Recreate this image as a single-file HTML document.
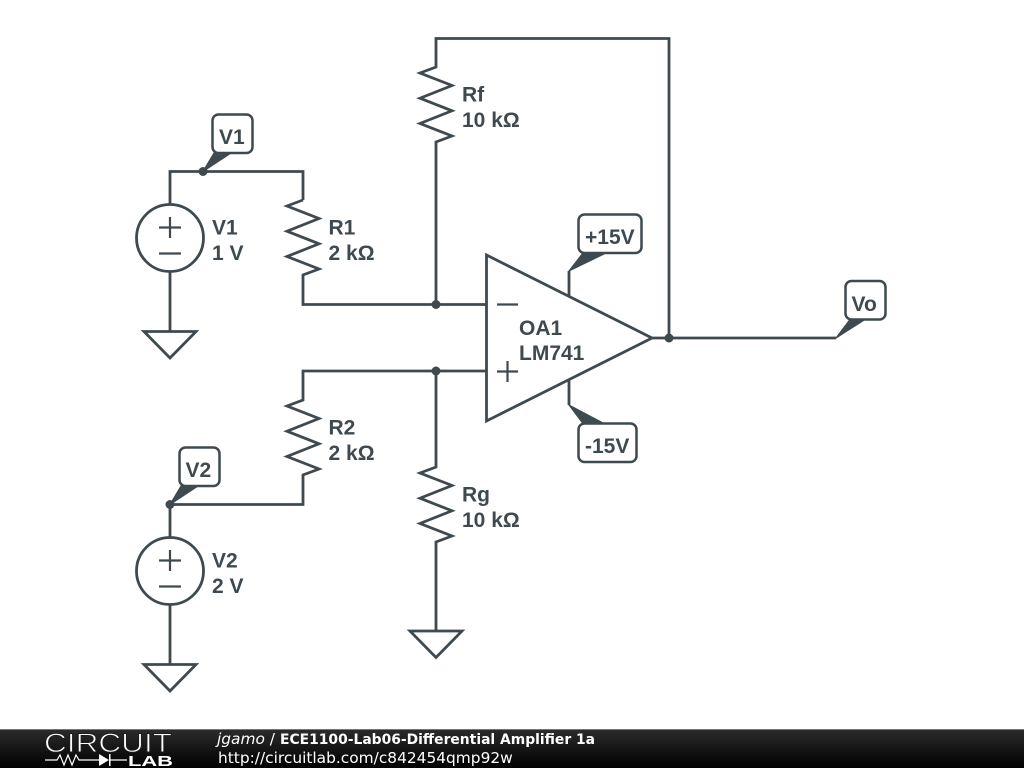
<!DOCTYPE html>
<html><head><meta charset="utf-8"><style>
html,body{margin:0;padding:0;background:#fff;width:1024px;height:768px;overflow:hidden}
svg{display:block}
.w{fill:none;stroke:#3f4a50;stroke-width:2.8;stroke-linejoin:miter}
.t{fill:#fff;stroke:#3f4a50;stroke-width:2.5}
.f{fill:#3f4a50}
.p{fill:#3f4a50;stroke:#3f4a50;stroke-width:1.2;stroke-linejoin:round}
text.l{font-family:"Liberation Sans",sans-serif;font-weight:bold;font-size:21px;fill:#3f4a50}
text.b{font-family:"DejaVu Sans",sans-serif;font-size:15.4px;fill:#fff}
</style></head><body>
<svg width="1024" height="768" viewBox="0 0 1024 768" xmlns="http://www.w3.org/2000/svg">
<defs><linearGradient id="g" x1="0" y1="0" x2="0" y2="1"><stop offset="0" stop-color="#2c2c2c"/><stop offset="1" stop-color="#000"/></linearGradient></defs>
<rect width="1024" height="768" fill="#fff"/>
<!-- wires -->
<path class="w" d="M170 238V171.500H303V200"/>
<path class="w" d="M303 200L287 206L319 218.500L287 231.200L319 243.800L287 256.500L319 269L303 275V304.500H486"/>
<path class="w" d="M436 304.500V142L452 136L420 123.500L452 110.800L420 98.200L452 85.500L420 73L436 67V38.500H669V338"/>
<path class="w" d="M652 338H836"/>
<path class="w" d="M486 371H303V400L287 406L319 418.500L287 431.200L319 443.800L287 456.500L319 469L303 475V504.500H170V571"/>
<path class="w" d="M436 371V467L420 473L452 485.500L420 498.200L452 510.800L420 523.500L452 536L436 542V630"/>
<path class="w" d="M170 271V331"/>
<path class="w" d="M170 604V664"/>
<path class="w" d="M569 297V271"/>
<path class="w" d="M569 379V405"/>
<!-- sources -->
<circle class="w" cx="170" cy="238" r="33.500" style="fill:#fff"/>
<path class="w" d="M159 227.500H181M170 217V238M159 253.500H181" style="stroke-width:2.200"/>
<circle class="w" cx="170" cy="571" r="33.500" style="fill:#fff"/>
<path class="w" d="M159 560.500H181M170 550V571M159 586.500H181" style="stroke-width:2.200"/>
<!-- grounds -->
<path class="w" d="M144 331.500H196L170 358Z"/>
<path class="w" d="M144 664.500H196L170 691Z"/>
<path class="w" d="M410 631H462L436 657.500Z"/>
<!-- opamp -->
<path class="w" d="M486.500 255L652 338L486.500 421Z" style="fill:#fff"/>
<path class="w" d="M497 304.500H518M497 371.500H518M507.500 361V382" style="stroke-width:2.200"/>
<!-- junctions -->
<g class="f"><circle cx="203" cy="171.500" r="4.500"/><circle cx="436" cy="304.500" r="4.500"/><circle cx="436" cy="371" r="4.500"/><circle cx="669" cy="338" r="4.500"/><circle cx="170" cy="504.500" r="4.500"/></g>
<!-- tags -->
<rect class="t" x="212.500" y="114.500" width="40" height="38.500" rx="6"/>
<polygon class="p" points="203,171.500 214,153 231,153"/>
<rect class="t" x="179.500" y="447.500" width="40" height="38.500" rx="6"/>
<polygon class="p" points="170,504.500 181,486 198,486"/>
<rect class="t" x="578.500" y="214.500" width="63" height="38.500" rx="6"/>
<polygon class="p" points="569,271 583,253 606,253"/>
<rect class="t" x="578.500" y="423.500" width="58" height="38.500" rx="6"/>
<polygon class="p" points="569,405 583,423.500 604,423.500"/>
<rect class="t" x="845.500" y="281" width="40" height="38.500" rx="6"/>
<polygon class="p" points="836,338 850,319.500 865,319.500"/>
<!-- labels -->
<text class="l" x="219" y="144">V1</text>
<text class="l" x="185.500" y="477">V2</text>
<text class="l" x="585" y="244">+15V</text>
<text class="l" x="585" y="453">-15V</text>
<text class="l" x="851.500" y="311">Vo</text>
<text class="l" x="212" y="234.500">V1</text>
<text class="l" x="212" y="260">1 V</text>
<text class="l" x="212" y="567.500">V2</text>
<text class="l" x="212" y="593">2 V</text>
<text class="l" x="328.500" y="234.500">R1</text>
<text class="l" x="328.500" y="260">2 kΩ</text>
<text class="l" x="328.500" y="434.500">R2</text>
<text class="l" x="328.500" y="460">2 kΩ</text>
<text class="l" x="462" y="101.500">Rf</text>
<text class="l" x="462" y="127">10 kΩ</text>
<text class="l" x="462" y="501.500">Rg</text>
<text class="l" x="462" y="527">10 kΩ</text>
<text class="l" x="519" y="335">OA1</text>
<text class="l" x="519" y="360">LM741</text>
<!-- footer -->
<rect x="0" y="729" width="1024" height="39" fill="url(#g)"/>
<rect x="0" y="729" width="1024" height="1" fill="#777"/>
<text x="44" y="752" font-family="Liberation Sans,sans-serif" font-size="26.500" fill="#fff" stroke="#1c1c1c" stroke-width="0.900" paint-order="fill" textLength="128" lengthAdjust="spacingAndGlyphs">CIRCUIT</text>
<path d="M45 760H57L60 755L64 765L68 755L72 765L76 755L79 760H99M109 760H127" fill="none" stroke="#fff" stroke-width="1.200"/>
<polygon points="99,754 99,766 109,760" fill="#fff"/>
<rect x="109" y="754" width="1.500" height="12" fill="#fff"/>
<text x="128" y="766" font-family="Liberation Sans,sans-serif" font-size="15" font-weight="bold" fill="#fff" textLength="45" lengthAdjust="spacingAndGlyphs">LAB</text>
<text class="b" x="217" y="744"><tspan font-style="italic">jgamo</tspan> /</text>
<text class="b" x="280" y="744" font-weight="bold" style="font-size:14px" textLength="315" lengthAdjust="spacingAndGlyphs">ECE1100-Lab06-Differential Amplifier 1a</text>
<text class="b" x="218" y="763">http://circuitlab.com/c842454qmp92w</text>
</svg>
</body></html>
